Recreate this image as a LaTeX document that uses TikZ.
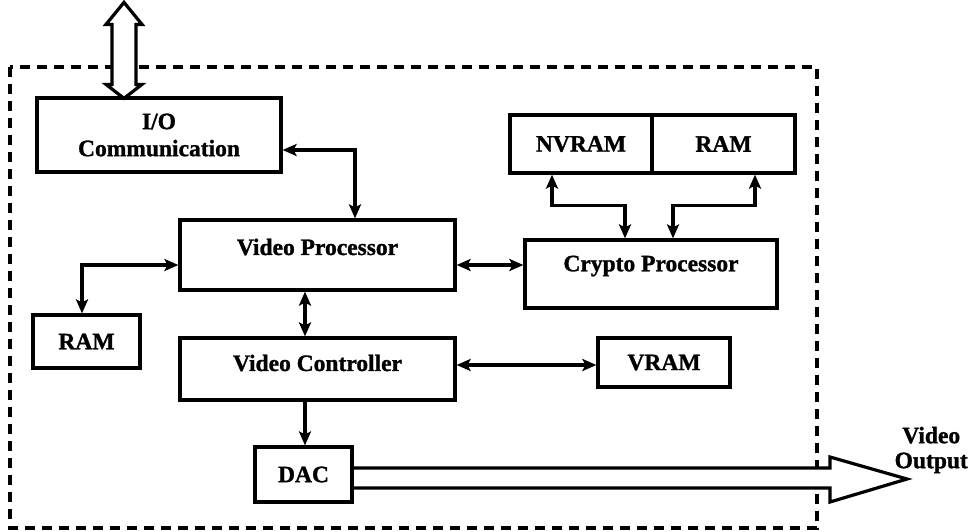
\documentclass[tikz,border=0pt]{standalone}
\usepackage{fontspec}
\setmainfont{Liberation Serif}[BoldFeatures={FakeBold=1.2}]
\usetikzlibrary{arrows.meta}
\pgfdeclarelayer{bg}
\pgfsetlayers{bg,main}
\begin{document}
\begin{tikzpicture}[x=1pt,y=-1pt,
  box/.style={draw, line width=3.2pt, inner sep=0pt, align=center,
    font=\fontsize{23.5}{27}\selectfont\bfseries},
  lbl/.style={inner sep=0pt, align=center, font=\fontsize{23.5}{27}\selectfont\bfseries},
  tipx/.tip={Stealth[length=14pt,width=12pt,inset=3pt]},
  biarrow/.style={line width=3.2pt, tipx-tipx},
  onearrow/.style={line width=3.2pt, -tipx},
  frame/.style={line width=3.4pt, dash pattern=on 10pt off 7pt},
  bigarrow/.style={line width=3.2pt, fill=white, line join=miter}]
\useasboundingbox (0,0) rectangle (969,531);

% boxes
\node[box, minimum width=244pt, minimum height=74pt] (io) at (159,135) {I/O\\Communication};
\node[box, minimum width=275pt, minimum height=70pt] (vp) at (317.5,255) {};
\node[lbl] (vpl) at ([yshift=8pt]vp.center) {Video Processor};
\node[box, minimum width=107pt, minimum height=53pt] (ram1) at (86.5,341.5) {RAM};
\node[box, minimum width=275pt, minimum height=62pt] (vc) at (317.5,369) {};
\node[lbl] (vcl) at ([yshift=6pt]vc.center) {Video Controller};
\node[box, minimum width=97pt, minimum height=55pt] (dac) at (303.5,474.5) {DAC};
\node[box, minimum width=142pt, minimum height=58pt] (nv) at (581,144) {NVRAM};
\node[box, minimum width=143pt, minimum height=58pt] (ram2) at (723.5,144) {RAM};
\node[box, minimum width=252pt, minimum height=68pt] (cp) at (651,274) {};
\node[lbl] (cpl) at ([yshift=8pt]cp.center) {Crypto Processor};
\node[box, minimum width=132pt, minimum height=49pt] (vram) at (664,362.5) {VRAM};
\node[lbl, anchor=east, font=\fontsize{23.5}{25}\selectfont\bfseries] (vo) at (968,450) {Video\\Output};

% connectors
\draw[biarrow] ([yshift=-15pt]io.east) -| ([xshift=37.5pt]vp.north);
\draw[biarrow] ([yshift=-10pt]vp.west) -| ([xshift=-4.5pt]ram1.north);
\draw[biarrow] ([yshift=-10pt]vp.east) -- ([yshift=-10pt]vp.east -| cp.west);
\draw[biarrow] ([xshift=-12.5pt]vp.south) -- ([xshift=-12.5pt]vc.north);
\draw[onearrow] ([xshift=-12.5pt]vc.south) -- ([xshift=-12.5pt]vc.south |- dac.north);
\draw[biarrow] ([yshift=4pt]vc.east) -- ([yshift=4pt]vc.east -| vram.west);
\draw[biarrow] ([xshift=-29pt]nv.south) |- ([xshift=-26pt,yshift=33pt]cp.north) -- ([xshift=-26pt]cp.north);
\draw[biarrow] ([xshift=31.5pt]ram2.south) |- ([xshift=22pt,yshift=33pt]cp.north) -- ([xshift=22pt]cp.north);

\begin{pgfonlayer}{bg}
  \draw[frame] (10,67) rectangle (817,528);
  % I/O bus arrow
  \coordinate (iotip) at ([xshift=-35pt,yshift=-2pt]io.north);
  \draw[bigarrow] (iotip) -- ++(18,-14) -- ++(-6,0) -- ++(0,-60) -- ++(6,0)
     -- ++(-18,-22) -- ++(-18,22) -- ++(6,0) -- ++(0,60) -- ++(-6,0) -- cycle;
  % video output arrow
  \coordinate (vtip) at (907,479);
  \draw[bigarrow] ([yshift=6.5pt]dac.east) -- (830,468) -- (830,457) -- (vtip)
     -- (830,502) -- (830,488) -- ([yshift=-13.5pt]dac.east);
\end{pgfonlayer}
\end{tikzpicture}
\end{document}
